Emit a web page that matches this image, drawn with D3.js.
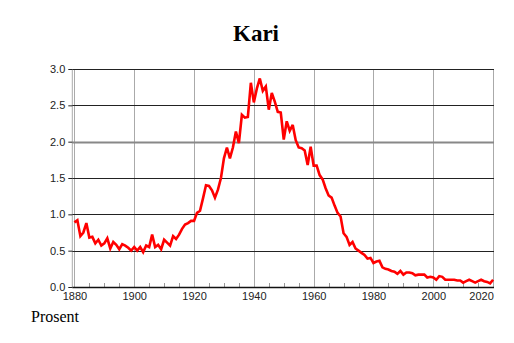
<!DOCTYPE html>
<html><head><meta charset="utf-8">
<script src="https://cdn.jsdelivr.net/npm/d3@7/dist/d3.min.js"></script>
<style>body{margin:0;background:#fff}svg{display:block}</style>
</head><body>
<svg id="c" width="514" height="343"></svg>
<script>
const title = "Kari";
const yLabel = "Prosent";
const startYear = 1880;
const values = [
0.89,0.92,0.70,0.75,0.88,0.68,0.69,0.60,0.65,0.57,
0.60,0.67,0.53,0.62,0.58,0.52,0.59,0.57,0.54,0.50,
0.55,0.50,0.55,0.48,0.57,0.55,0.72,0.55,0.58,0.52,
0.65,0.61,0.57,0.70,0.66,0.72,0.80,0.86,0.88,0.91,
0.91,1.02,1.05,1.22,1.40,1.39,1.33,1.23,1.34,1.50,
1.77,1.92,1.77,1.92,2.14,1.98,2.37,2.33,2.34,2.81,
2.54,2.73,2.87,2.70,2.76,2.44,2.67,2.55,2.41,2.40,
2.03,2.28,2.15,2.23,2.02,1.92,1.91,1.88,1.68,1.93,
1.67,1.67,1.54,1.48,1.36,1.26,1.23,1.12,1.02,0.97,
0.74,0.69,0.58,0.62,0.53,0.50,0.47,0.44,0.39,0.40,
0.33,0.35,0.36,0.27,0.25,0.24,0.22,0.21,0.18,0.22,
0.17,0.20,0.20,0.19,0.16,0.17,0.17,0.17,0.13,0.14,
0.13,0.10,0.15,0.14,0.10,0.10,0.10,0.10,0.09,0.09,
0.06,0.08,0.10,0.08,0.06,0.08,0.10,0.08,0.07,0.05,
0.10
];
const xGridYears = [1880,1900,1920,1940,1960,1980,2000,2020];
const xTickLabels = ["1880","1900","1920","1940","1960","1980","2000","2020"];
const yTicks = [0,0.5,1.0,1.5,2.0,2.5,3.0];

const data = values.map((v,i)=>({year:startYear+i, v}));
const svg = d3.select("#c");
const L=72.3, R=494, T=69, B=287;
const x = d3.scaleLinear().domain([1879.3,2020.3]).range([L,R]);
const y = d3.scaleLinear().domain([0,3]).range([B,T]);

// vertical gridlines
svg.append("g").selectAll("line").data(xGridYears).join("line")
  .attr("x1",d=>Math.round(x(d))+0.5).attr("x2",d=>Math.round(x(d))+0.5)
  .attr("y1",T).attr("y2",B)
  .attr("stroke","#aaa").attr("stroke-width",1);
// left border
svg.append("line").attr("x1",L).attr("x2",L).attr("y1",T).attr("y2",B)
  .attr("stroke","#aaa").attr("stroke-width",1);

// horizontal gridlines
svg.append("g").selectAll("line").data(yTicks.filter(d=>d>0)).join("line")
  .attr("x1",L).attr("x2",R)
  .attr("y1",d=>Math.round(y(d))+0.5).attr("y2",d=>Math.round(y(d))+0.5)
  .attr("stroke",d=>d===2?"#888":"#222").attr("stroke-width",d=>d===2?2:1);

// minor x ticks every 5 years
const minor = d3.range(1885,2020,5).filter(d=>d%20!==0);
svg.append("g").selectAll("line").data(minor).join("line")
  .attr("x1",d=>Math.round(x(d))+0.5).attr("x2",d=>Math.round(x(d))+0.5)
  .attr("y1",B-4).attr("y2",B)
  .attr("stroke","#999").attr("stroke-width",1);

// y axis ticks & labels
const yAxis = d3.axisLeft(y).tickValues(yTicks).tickFormat(d3.format(".1f")).tickSize(4).tickPadding(3);
const gy = svg.append("g").attr("transform",`translate(${L},0)`).call(yAxis);
gy.select(".domain").remove();
gy.selectAll("line").attr("stroke","#222");
gy.selectAll("text").attr("font-family","Liberation Sans, Arial, sans-serif").attr("font-size",11).attr("fill","#222");

// x axis labels
const xAxis = d3.axisBottom(x).tickValues(xGridYears).tickFormat((d,i)=>xTickLabels[i]).tickSize(0).tickPadding(5);
const gx = svg.append("g").attr("transform",`translate(0,${B})`).call(xAxis);
gx.select(".domain").remove();
gx.selectAll("text").attr("font-family","Liberation Sans, Arial, sans-serif").attr("font-size",11).attr("fill","#222");
gx.selectAll(".tick").filter(d=>d===2020).select("text").attr("dx",-12);
gx.selectAll(".tick").filter(d=>d===1880).select("text").attr("dx",0);

// bottom axis line
svg.append("line").attr("x1",L).attr("x2",R).attr("y1",B+0.5).attr("y2",B+0.5)
  .attr("stroke","#111").attr("stroke-width",1.5);

// data line
const line = d3.line().x(d=>x(d.year)).y(d=>y(d.v));
svg.append("path").datum(data).attr("d",line)
  .attr("fill","none").attr("stroke","#ff0000").attr("stroke-width",2.6)
  .attr("stroke-linejoin","miter").attr("stroke-miterlimit",3);

// title
svg.append("text").attr("x",256).attr("y",41).attr("text-anchor","middle")
  .attr("font-family","Liberation Serif, Times New Roman, serif").attr("font-weight","bold")
  .attr("font-size",23).text(title);
// y label
svg.append("text").attr("x",31).attr("y",322)
  .attr("font-family","Liberation Serif, Times New Roman, serif")
  .attr("font-size",16).text(yLabel);
</script>
</body></html>
